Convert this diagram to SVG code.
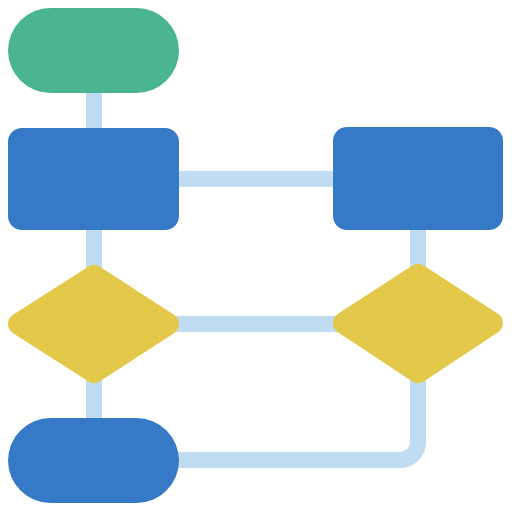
<svg xmlns="http://www.w3.org/2000/svg" width="512" height="512" viewBox="0 0 512 512">
<style>
.conn{fill:none;stroke:#BFDCF0;stroke-width:16}
.blue{fill:#3679C6}
.green{fill:#4BB591}
.yellow{fill:#E4C84A;stroke:#E4C84A;stroke-width:22;stroke-linejoin:round}
</style>
<g id="connectors">
<line class="conn" x1="94" y1="90" x2="94" y2="132"/>
<line class="conn" x1="94" y1="226" x2="94" y2="270"/>
<line class="conn" x1="94" y1="378" x2="94" y2="422"/>
<line class="conn" x1="175" y1="179" x2="337" y2="179"/>
<line class="conn" x1="175" y1="324" x2="337" y2="324"/>
<line class="conn" x1="418" y1="226" x2="418" y2="270"/>
<path class="conn" d="M175 460 H400 A18 18 0 0 0 418 442 V378"/>
</g>
<g id="start"><rect class="green" x="8" y="8" width="171" height="85" rx="42.5"/></g>
<g id="process1"><rect class="blue" x="8" y="128" width="171" height="102" rx="14"/></g>
<g id="process2"><rect class="blue" x="333" y="127" width="170" height="103" rx="14"/></g>
<g id="decision1"><polygon class="yellow" points="94,276 168,324 94,372 19,324"/></g>
<g id="decision2"><polygon class="yellow" points="418,275 492,323 418,372 344,323"/></g>
<g id="end"><rect class="blue" x="8" y="418" width="171" height="85" rx="42.5"/></g>
</svg>
